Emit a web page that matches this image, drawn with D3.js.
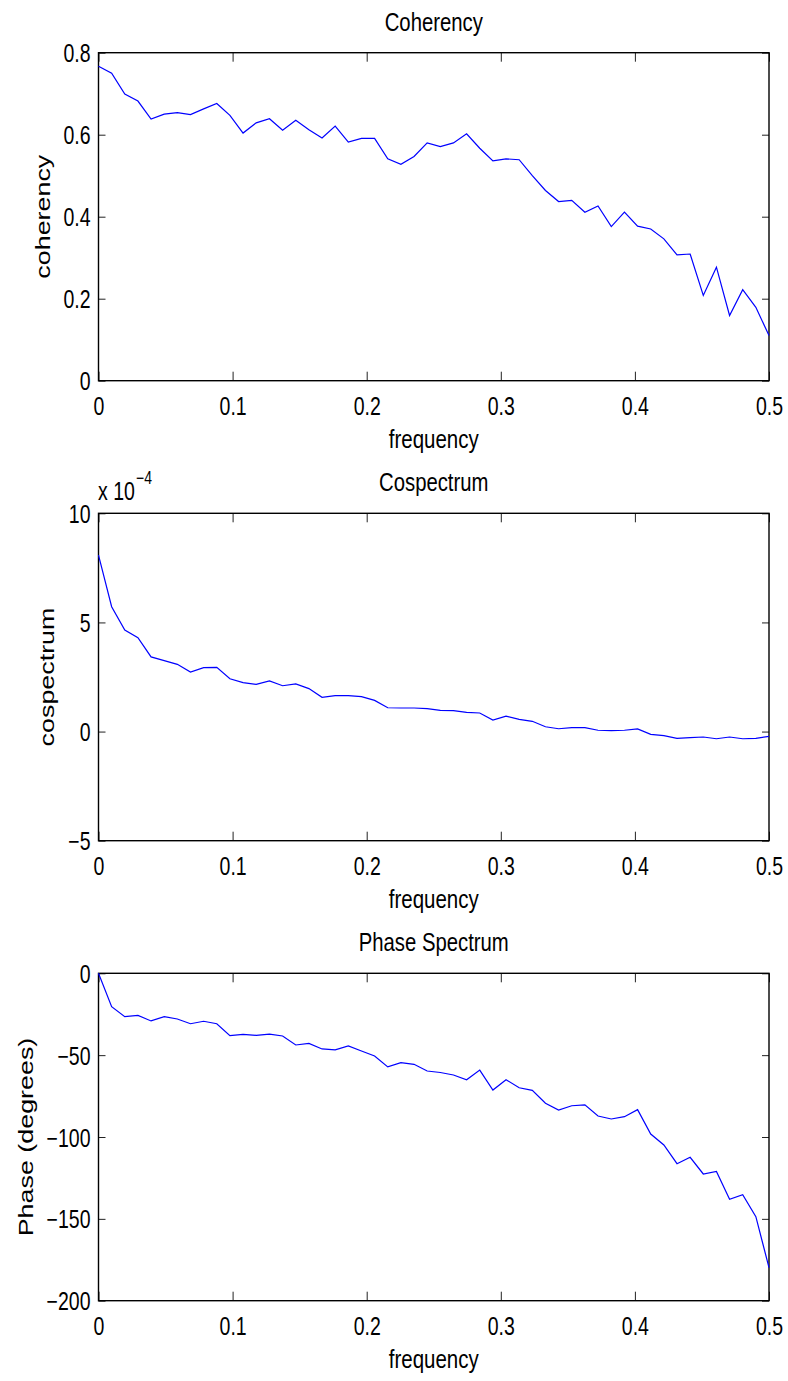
<!DOCTYPE html>
<html>
<head>
<meta charset="utf-8">
<script src="https://cdn.jsdelivr.net/npm/d3@7"></script>
<style>
  body { margin: 0; background: #fff; }
  text { font-family: "Liberation Sans", Arial, Helvetica, sans-serif; fill: #000; }
</style>
</head>
<body>
<div id="canvas"></div>
<script>
// frequencies (cycles / sample)
var freq = [0, .0098, .0196, .0294, .0392, .0490, .0588, .0686, .0784, .0882,
  .0980, .1078, .1176, .1275, .1373, .1471, .1569, .1667, .1765, .1863,
  .1961, .2059, .2157, .2255, .2353, .2451, .2549, .2647, .2745, .2843,
  .2941, .3039, .3137, .3235, .3333, .3431, .3529, .3627, .3725, .3824,
  .3922, .4020, .4118, .4216, .4314, .4412, .4510, .4608, .4706, .4804,
  .4902, .5000];

var coherency = [.767, .750, .699, .682, .638, .650, .654, .649, .663, .676,
  .647, .604, .629, .639, .611, .635, .612, .592, .621, .582,
  .591, .591, .541, .528, .547, .580, .571, .580, .602, .567,
  .536, .541, .539, .500, .464, .437, .440, .411, .426, .376,
  .411, .377, .370, .346, .307, .309, .208, .277, .159, .222,
  .179, .110];

// cospectrum, in units of 10^-4
var cospec = [8.08, 5.72, 4.65, 4.30, 3.42, 3.25, 3.08, 2.73, 2.93, 2.94,
  2.42, 2.24, 2.16, 2.32, 2.10, 2.18, 1.97, 1.57, 1.65, 1.65,
  1.60, 1.43, 1.09, 1.08, 1.08, 1.05, 0.97, 0.96, 0.88, 0.85,
  0.53, 0.71, 0.56, 0.47, 0.22, 0.13, 0.18, 0.18, 0.06, 0.04,
  0.06, 0.12, -0.13, -0.19, -0.31, -0.28, -0.25, -0.33, -0.25, -0.33,
  -0.31, -0.22];

var phase = [0, -20.4, -26.5, -25.7, -29.1, -26.5, -27.9, -30.8, -29.3, -30.8,
  -38.1, -37.3, -37.9, -37.1, -38.3, -43.8, -42.8, -46.2, -46.8, -44.4,
  -47.5, -50.5, -57.2, -54.6, -55.6, -59.7, -60.6, -62.1, -65.0, -59.1,
  -71.3, -65.0, -69.9, -71.5, -79.4, -83.5, -80.9, -80.4, -87.2, -89.0,
  -87.6, -83.3, -98.2, -104.9, -116.3, -112.4, -122.6, -121.0, -138.1, -135.2,
  -148.7, -179.8];

var xTicks = [0, 0.1, 0.2, 0.3, 0.4, 0.5];

var W = 788, H = 1381;
var sy = 1.28; // vertical stretch of all text
var left = 98.5, right = 769;

var svg = d3.select("#canvas").append("svg")
    .attr("width", W)
    .attr("height", H);

var x = d3.scaleLinear().domain([0, 0.5]).range([left, right]);

function txt(g, str, tx, ty, size, anchor, rot) {
  var t = g.append("text")
      .attr("transform", "translate(" + tx + "," + ty + ") scale(1," + sy + ")" + (rot ? " rotate(-90)" : ""))
      .attr("text-anchor", anchor)
      .style("font-size", size + "px")
      .text(str);
  return t;
}

function panel(top, bottom, values, yDomain, yTicks, title, ylab, ylabX) {
  var y = d3.scaleLinear().domain(yDomain).range([bottom, top]);
  var g = svg.append("g");

  // bottom axis with labels
  var gb = g.append("g").attr("transform", "translate(0," + bottom + ")")
      .call(d3.axisBottom(x).tickValues(xTicks).tickSizeInner(-9).tickSizeOuter(0)
        .tickFormat(d3.format("")));
  gb.selectAll(".tick text")
      .attr("y", null).attr("dy", null)
      .attr("transform", "translate(0,34) scale(1," + sy + ")")
      .style("font-size", "19.5px").style("font-family", null);

  // top axis, ticks only
  g.append("g").attr("transform", "translate(0," + top + ")")
      .call(d3.axisTop(x).tickValues(xTicks).tickSizeInner(-9).tickSizeOuter(0).tickFormat(""));

  // left axis with labels
  var gl = g.append("g").attr("transform", "translate(" + left + ",0)")
      .call(d3.axisLeft(y).tickValues(yTicks).tickSizeInner(-7).tickSizeOuter(0)
        .tickFormat(d3.format("")));
  gl.selectAll(".tick text")
      .attr("x", null).attr("dy", null)
      .attr("transform", "translate(-8,9) scale(1," + sy + ")")
      .style("font-size", "19.5px").style("font-family", null);

  // right axis, ticks only
  g.append("g").attr("transform", "translate(" + right + ",0)")
      .call(d3.axisRight(y).tickValues(yTicks).tickSizeInner(-7).tickSizeOuter(0).tickFormat(""));

  g.selectAll(".domain").remove();
  g.selectAll(".tick line").attr("stroke", "#222").attr("stroke-width", 1);

  // box
  g.append("rect")
      .attr("x", left).attr("y", top)
      .attr("width", right - left).attr("height", bottom - top)
      .attr("fill", "none").attr("stroke", "#000").attr("stroke-width", 1.4);

  // data line
  var line = d3.line()
      .x(function(d, i) { return x(freq[i]); })
      .y(function(d) { return y(d); });
  g.append("path")
      .datum(values)
      .attr("d", line)
      .attr("fill", "none")
      .attr("stroke", "#0000ff")
      .attr("stroke-width", 1.2);

  txt(g, title, (left + right) / 2, top - 22, 20.3, "middle");
  txt(g, "frequency", (left + right) / 2, bottom + 67, 20.5, "middle");
  txt(g, ylab, ylabX, (top + bottom) / 2, 21, "middle", true);
  return g;
}

panel(52.7, 380.7, coherency, [0, 0.8], [0, 0.2, 0.4, 0.6, 0.8], "Coherency", "coherency", 50);
var p2 = panel(513.3, 840.7, cospec, [-5, 10], [-5, 0, 5, 10], "Cospectrum", "cospectrum", 54);
panel(973.3, 1300.7, phase, [-200, 0], [-200, -150, -100, -50, 0], "Phase Spectrum", "Phase (degrees)", 33);

// exponent marker for the cospectrum panel
txt(p2, "x 10", 98, 500, 19.5, "start");
txt(p2, "\u22124", 136, 484, 14, "start");
</script>
</body>
</html>
